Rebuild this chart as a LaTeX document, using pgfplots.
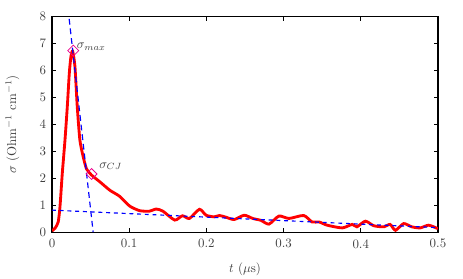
\documentclass[border=0pt]{standalone}
\usepackage{pgfplots}
\pgfplotsset{compat=1.18}
\begin{document}
\begin{tikzpicture}
\begin{axis}[
  scale only axis,
  width=299pt, height=167pt,
  xmin=0, xmax=0.5, ymin=0, ymax=8,
  xtick={0,0.1,0.2,0.3,0.4,0.5},
  ytick={0,1,2,3,4,5,6,7,8},
  xticklabels={0,0.1,0.2,0.3,0.4,0.5},
  tick align=inside,
  major tick length=3pt,
  axis line style={line width=0.9pt},
  every tick/.style={line width=0.7pt, black},
  xlabel={$t$ ($\mu$s)},
  ylabel={$\sigma$ (Ohm$^{-1}$ cm$^{-1}$)},
  ylabel shift=9pt,
  xlabel shift=4pt,
  xticklabel shift=2pt,
  yticklabel shift=1pt,
  tick label style={text=black!75},
  label style={text=black!75},
  clip=true,
]
\addplot[red, line width=2.2pt, smooth, tension=0.4] coordinates {
(0,0.05) (0.004,0.15) (0.008,0.38) (0.0103,0.94) (0.0133,2.18) (0.0168,3.42)
(0.0198,4.66) (0.0224,5.9) (0.0245,6.52) (0.0267,6.72) (0.0297,6.15)
(0.0327,4.66) (0.0361,3.42) (0.0404,2.8) (0.0447,2.35) (0.0512,2.12)
(0.062,1.87) (0.0748,1.56) (0.0877,1.33) (0.1006,0.97) (0.1135,0.8)
(0.126,0.78) (0.135,0.86) (0.1437,0.78) (0.159,0.45) (0.169,0.61)
(0.178,0.51) (0.191,0.85) (0.1996,0.63) (0.21,0.57) (0.2168,0.62)
(0.225,0.56) (0.236,0.47) (0.249,0.63) (0.26,0.51) (0.2706,0.44)
(0.281,0.30) (0.294,0.6) (0.307,0.51) (0.326,0.62) (0.337,0.38)
(0.346,0.38) (0.3565,0.26) (0.376,0.16) (0.389,0.29) (0.395,0.20)
(0.406,0.41) (0.4168,0.24) (0.43,0.20) (0.438,0.29) (0.445,0.07)
(0.4555,0.32) (0.466,0.20) (0.477,0.16) (0.488,0.26) (0.5,0.13)
};
\addplot[blue, line width=0.9pt, dash pattern=on 4.5pt off 3pt] coordinates {(0.018,8.99) (0.0533,0)};
\addplot[blue, line width=0.9pt, dash pattern=on 3pt off 3pt] coordinates {(0,0.82) (0.5,0.17)};
\addplot[only marks, mark=square, mark size=3pt, magenta, mark options={rotate=45, line width=0.6pt}] coordinates {(0.0275,6.74) (0.0512,2.16)};
\node[anchor=west, text=black!75, inner sep=0pt] at (axis cs:0.032,6.9) {$\sigma_{max}$};
\node[anchor=west, text=black!75, inner sep=0pt] at (axis cs:0.061,2.45) {$\sigma_{CJ}$};
\end{axis}
\pgfresetboundingbox
\path (-40.3pt,-35.7pt) rectangle (318.4pt,179.9pt);
\end{tikzpicture}
\end{document}
